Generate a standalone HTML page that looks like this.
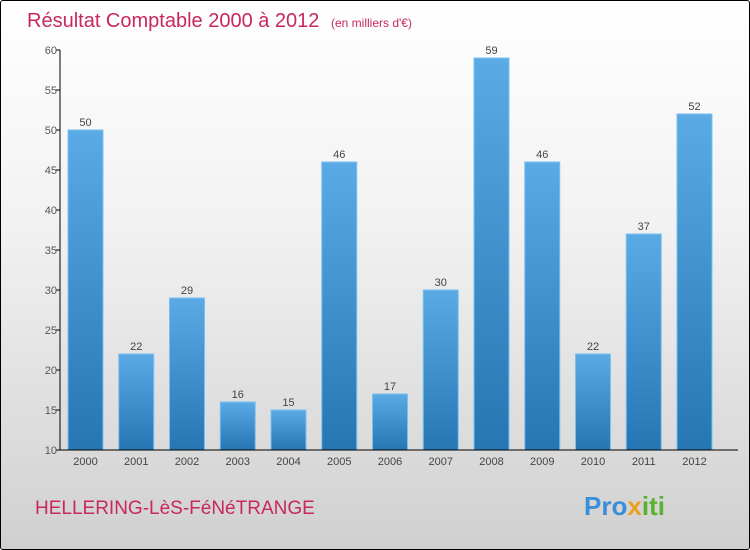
<!DOCTYPE html>
<html><head><meta charset="utf-8"><style>
html,body{margin:0;padding:0}
body{width:750px;height:550px;overflow:hidden;font-family:"Liberation Sans",sans-serif}
#wrap{position:absolute;left:0;top:0;width:748px;height:548px;border:1px solid #000;border-radius:3px;background:linear-gradient(#ffffff 0%,#f2f2f2 40%,#d0d0d0 100%)}
</style></head><body>
<div id="wrap">
<svg width="750" height="550" viewBox="0 0 750 550" xmlns="http://www.w3.org/2000/svg" style="position:absolute;left:-1px;top:-1px">
<defs>
<linearGradient id="bg" x1="0" y1="0" x2="0" y2="1"><stop offset="0" stop-color="#5aaae6"/><stop offset="1" stop-color="#2676b4"/></linearGradient>
</defs>
<text x="27" y="27" font-size="20" fill="#c8285a" font-weight="300">Résultat Comptable 2000 à 2012 <tspan font-size="12" dx="6">(en milliers d'€)</tspan></text>
<g id="yaxis"></g>
<g id="bars"></g>
<g id="xaxis"></g>
<text x="35" y="514" font-size="19" fill="#c8285a">HELLERING-LèS-FéNéTRANGE</text>
<text x="584" y="515" font-size="26" font-weight="bold"><tspan fill="#3a8fd8">Pro</tspan><tspan fill="#e8a020">x</tspan><tspan fill="#5ab030">iti</tspan></text>
</svg>
</div>
<script>
const categories=["2000","2001","2002","2003","2004","2005","2006","2007","2008","2009","2010","2011","2012"];
const values=[50,22,29,16,15,46,17,30,59,46,22,37,52];
const yTicks=[10,15,20,25,30,35,40,45,50,55,60];
const NS="http://www.w3.org/2000/svg";
const yMin=10,yMax=60,plotTop=50,plotBottom=450,axisX=60,x0=85.5,step=50.75,bw=35;
function yS(v){return plotBottom-(v-yMin)/(yMax-yMin)*(plotBottom-plotTop);}
function xS(i){return x0+i*step;}
function mk(tag,attrs,parent,txt){const e=document.createElementNS(NS,tag);for(const k in attrs)e.setAttribute(k,attrs[k]);if(txt!==undefined)e.textContent=txt;parent.appendChild(e);return e;}
const ya=document.getElementById('yaxis'),ba=document.getElementById('bars'),xa=document.getElementById('xaxis');
let ln=mk('line',{x1:axisX,y1:plotTop,x2:axisX,y2:plotBottom,stroke:'#000'},ya);


yTicks.forEach(t=>{
  const tk=mk('line',{x1:axisX-4,y1:yS(t),x2:axisX,y2:yS(t),stroke:'#000'},ya);
  
  
  const tl=mk('text',{x:axisX-3,y:yS(t)+4,'font-size':11,fill:'#555','text-anchor':'end'},ya,t);
  
  
});
categories.forEach((c,i)=>{
  const r=mk('rect',{x:xS(i)-bw/2,y:yS(values[i]),width:bw,height:plotBottom-yS(values[i]),fill:'url(#bg)',stroke:'#7cc0f0','stroke-width':1},ba);
  
  
  const vl=mk('text',{x:xS(i),y:yS(values[i])-4,'font-size':11,fill:'#444','text-anchor':'middle'},ba,values[i]);
  
  
  const xl=mk('text',{x:xS(i),y:plotBottom+15,'font-size':11,fill:'#444','text-anchor':'middle'},xa,c);
  
  
});
ln=mk('line',{x1:axisX,y1:plotBottom,x2:738,y2:plotBottom,stroke:'#000'},xa);


</script>
</body></html>
